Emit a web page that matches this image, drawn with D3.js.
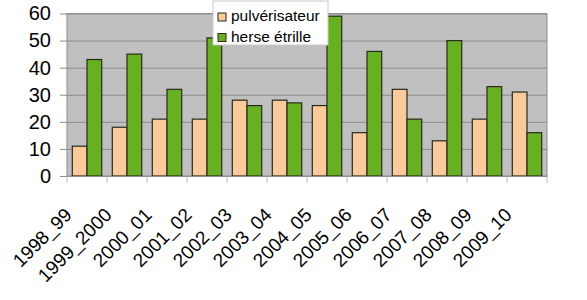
<!doctype html>
<html>
<head>
<style>
  body { margin: 0; background: #fff; }
  text { font-family: "Liberation Sans", Arial, sans-serif; }
</style>
<script src="https://d3js.org/d3.v7.min.js"></script>
</head>
<body>
<svg id="chart" width="587" height="300"></svg>
<script>
// data
var seasons = ["1998_99", "1999_2000", "2000_01", "2001_02", "2002_03", "2003_04",
               "2004_05", "2005_06", "2006_07", "2007_08", "2008_09", "2009_10"];
var pulverisateur = [11, 18, 21, 21, 28, 28, 26, 16, 32, 13, 21, 31];
var herse = [43, 45, 32, 51, 26, 27, 59, 46, 21, 50, 33, 16];
var yTicks = [0, 10, 20, 30, 40, 50, 60];
var seriesNames = ["pulvérisateur", "herse étrille"];
var colors = ["#F9CB9C", "#66B022"];

var svg = d3.select("#chart");
var plotLeft = 67, plotRight = 547, plotTop = 13.5, plotBottom = 176;

var x = d3.scaleBand().domain(seasons).range([plotLeft, plotRight]);
var inner = d3.scaleBand().domain([0, 1]).range([0, x.bandwidth()]).paddingOuter(0.36);
var y = d3.scaleLinear().domain([0, 60]).range([plotBottom, plotTop]);

// plot background
svg.append("rect")
   .attr("x", plotLeft).attr("y", plotTop)
   .attr("width", plotRight - plotLeft).attr("height", plotBottom - plotTop)
   .attr("fill", "#C0C0C0")
   .attr("stroke", "#8c8c8c").attr("stroke-width", 1);

// y axis with gridlines
var yAxis = svg.append("g")
   .attr("transform", "translate(" + plotLeft + ",0)")
   .call(d3.axisLeft(y).tickValues(yTicks).tickSize(-(plotRight - plotLeft)).tickPadding(16));
yAxis.select(".domain").remove();
yAxis.selectAll(".tick line").attr("stroke", "#8c8c8c").attr("x1", -7);
yAxis.selectAll(".tick text")
   .attr("font-size", "20px").attr("fill", "#000")
   .style("font-family", "'Liberation Sans', Arial, sans-serif");

// bars
var groups = svg.append("g").selectAll("g")
   .data(seasons)
   .enter().append("g")
   .attr("transform", function(d) { return "translate(" + x(d) + ",0)"; });

groups.selectAll("rect")
   .data(function(d, i) { return [pulverisateur[i], herse[i]]; })
   .enter().append("rect")
   .attr("x", function(d, j) { return inner(j); })
   .attr("y", function(d) { return y(d); })
   .attr("width", inner.bandwidth())
   .attr("height", function(d) { return plotBottom - y(d); })
   .attr("fill", function(d, j) { return colors[j]; })
   .attr("stroke", "#2a2a1a").attr("stroke-width", 1.2);

// x axis
var xAxis = svg.append("g")
   .attr("transform", "translate(0," + plotBottom + ")")
   .call(d3.axisBottom(x).tickSize(0).tickPadding(0));
xAxis.select(".domain").attr("stroke", "#8c8c8c");
// tick marks on category boundaries
xAxis.selectAll(".sep")
   .data(d3.range(seasons.length + 1))
   .enter().append("line")
   .attr("x1", function(i) { return plotLeft + i * x.bandwidth(); })
   .attr("x2", function(i) { return plotLeft + i * x.bandwidth(); })
   .attr("y1", 0).attr("y2", 7)
   .attr("stroke", "#bdbdbd");
xAxis.selectAll(".tick text")
   .attr("font-size", "19px").attr("fill", "#000")
   .style("font-family", "'Liberation Sans', Arial, sans-serif")
   .attr("text-anchor", "end")
   .attr("dy", "0")
   .attr("transform", "translate(-14,40) rotate(-45)");

// legend
var legend = svg.append("g").attr("transform", "translate(213,1)");
legend.append("rect")
   .attr("width", 115).attr("height", 44)
   .attr("fill", "#fff").attr("stroke", "#c8c8c8");
seriesNames.forEach(function(name, i) {
  legend.append("rect")
     .attr("x", 5).attr("y", 12 + i * 20.5)
     .attr("width", 8).attr("height", 8)
     .attr("fill", colors[i]).attr("stroke", "#2a2a1a");
  legend.append("text")
     .attr("x", 18).attr("y", 20 + i * 20.5)
     .attr("font-size", "15.5px")
     .text(name);
});
</script>
</body>
</html>
